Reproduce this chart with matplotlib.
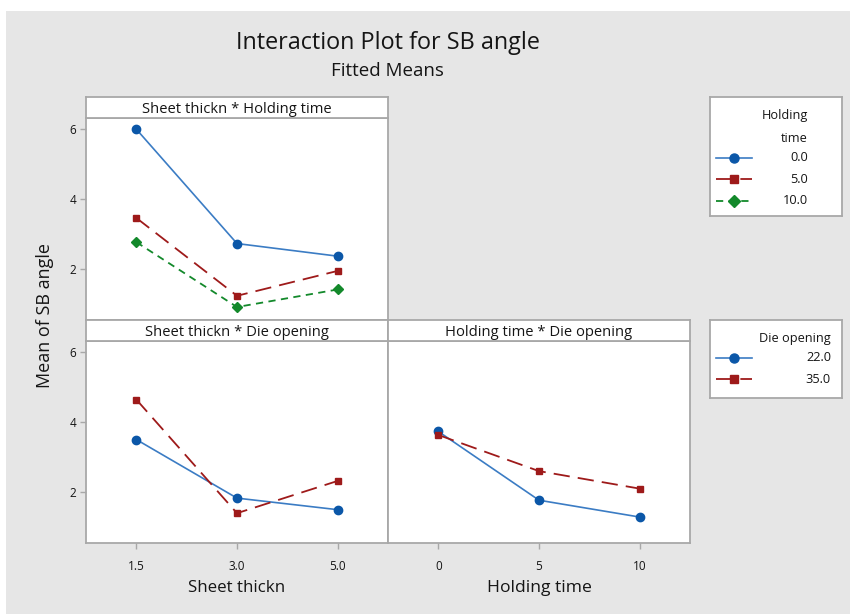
import matplotlib
matplotlib.use("Agg")
import matplotlib.pyplot as plt
from matplotlib.lines import Line2D
from matplotlib.patches import Rectangle

plt.rcParams['font.family'] = ['Open Sans', 'DejaVu Sans']

# Fitted means
sheet_levels = ["1.5", "3.0", "5.0"]
hold_levels = ["0", "5", "10"]
hold_legend = ["0.0", "5.0", "10.0"]
die_legend = ["22.0", "35.0"]

# Sheet thickn * Holding time
st_ht_0 = [5.99, 2.73, 2.37]
st_ht_5 = [3.46, 1.24, 1.95]
st_ht_10 = [2.77, 0.92, 1.42]

# Sheet thickn * Die opening
st_do_22 = [3.50, 1.83, 1.50]
st_do_35 = [4.64, 1.40, 2.32]

# Holding time * Die opening
ht_do_22 = [3.73, 1.77, 1.29]
ht_do_35 = [3.63, 2.60, 2.10]

y_ticks = [2, 4, 6]

W, H = 850, 614
BLUE = "#0b57a8"
BLUE_LINE = "#3b7cc4"
RED = "#9e1a1a"
GREEN = "#13892b"
FRAME = "#a8a8a8"
BG = "#e6e6e6"
TXT = "#151515"

styles = {
    "blue": dict(color=BLUE_LINE, ls="-", lw=1.2, marker="o", ms=6,
                 mfc=BLUE, mec=BLUE),
    "red": dict(color=RED, ls=(0, (9, 4.5)), lw=1.3, marker="s", ms=5,
                mfc=RED, mec=RED),
    "green": dict(color=GREEN, ls=(0, (4, 3)), lw=1.3, marker="D", ms=5.5,
                  mfc=GREEN, mec=GREEN),
}

fig = plt.figure(figsize=(W / 100, H / 100), dpi=100, facecolor="white")
fig.patches.append(Rectangle((6 / W, 0), 1, 1 - 11 / H, transform=fig.transFigure,
                             facecolor=BG, edgecolor="none", zorder=-10))


def box(x0, y0, x1, y1):
    """Axes from pixel box (top-left origin)."""
    return [x0 / W, 1 - y1 / H, (x1 - x0) / W, (y1 - y0) / H]


def style_frame(ax):
    for s in ax.spines.values():
        s.set_color(FRAME)
        s.set_linewidth(1.3)
    ax.set_facecolor("white")


def strip(x0, y0, x1, y1, label):
    sa = fig.add_axes(box(x0, y0, x1, y1))
    style_frame(sa)
    sa.set_xticks([])
    sa.set_yticks([])
    sa.text(0.5, 0.42, label, ha="center", va="center", fontsize=10.6,
            color=TXT, transform=sa.transAxes)


def panel(x0, y0, x1, y1, left_ticks, bottom_ticks, xlabels):
    ax = fig.add_axes(box(x0, y0, x1, y1))
    style_frame(ax)
    ax.set_xlim(-0.5, 2.5)
    ax.set_ylim(0.55, 6.31)
    ax.tick_params(colors=FRAME, labelcolor=TXT, length=4, width=1, labelsize=8.5)
    ax.set_xticks(range(3))
    if bottom_ticks:
        ax.set_xticklabels(xlabels)
        ax.tick_params(axis="x", pad=8)
    else:
        ax.tick_params(axis="x", bottom=False, labelbottom=False)
    ax.set_yticks(y_ticks)
    if left_ticks:
        ax.set_yticklabels([str(v) for v in y_ticks])
        ax.tick_params(axis="y", pad=3)
    else:
        ax.tick_params(axis="y", left=False, labelleft=False)
    return ax


x = range(3)

ax1 = panel(86, 118, 388, 320, True, False, sheet_levels)
strip(86, 97, 388, 118, "Sheet thickn * Holding time")
ax1.plot(x, st_ht_0, **styles["blue"])
ax1.plot(x, st_ht_5, **styles["red"])
ax1.plot(x, st_ht_10, **styles["green"])

ax2 = panel(86, 341, 388, 543, True, True, sheet_levels)
strip(86, 320, 388, 341, "Sheet thickn * Die opening")
ax2.plot(x, st_do_22, **styles["blue"])
ax2.plot(x, st_do_35, **styles["red"])

ax3 = panel(388, 341, 690, 543, False, True, hold_levels)
strip(388, 320, 690, 341, "Holding time * Die opening")
ax3.plot(x, ht_do_22, **styles["blue"])
ax3.plot(x, ht_do_35, **styles["red"])

# Titles and axis labels
fig.text(388 / W, 1 - 43 / H, "Interaction Plot for SB angle", ha="center",
         va="center", fontsize=16.8, color=TXT)
fig.text(387 / W, 1 - 71 / H, "Fitted Means", ha="center", va="center",
         fontsize=13.5, color=TXT)
fig.text(45 / W, 1 - 316 / H, "Mean of SB angle", rotation=90, ha="center",
         va="center", fontsize=13, color=TXT)
fig.text(237 / W, 1 - 588 / H, "Sheet thickn", ha="center", va="center",
         fontsize=12.2, color=TXT)
fig.text(539 / W, 1 - 588 / H, "Holding time", ha="center", va="center",
         fontsize=12.6, color=TXT)


def legend_box(x0, y0, x1, y1, title_lines, labels, keys, label_right):
    la = fig.add_axes(box(x0, y0, x1, y1))
    la.set_xlim(x0, x1)
    la.set_ylim(y1, y0)
    la.set_xticks([])
    la.set_yticks([])
    la.set_facecolor("white")
    for s in la.spines.values():
        s.set_color(FRAME)
        s.set_linewidth(1.3)
    ty = y0 + 19
    for t in title_lines:
        la.text(label_right, ty, t, ha="right", va="center", fontsize=9.2, color=TXT)
        ty += 23
    ey = ty - 23 + 19
    for lab, key in zip(labels, keys):
        st = dict(styles[key])
        st["ms"] = st["ms"] + 0.5
        la.add_line(Line2D([716, 734, 752], [ey, ey, ey], markevery=[1], **st))
        la.text(label_right, ey, lab, ha="right", va="center", fontsize=9.2, color=TXT)
        ey += 21.5


legend_box(710, 97, 842, 216, ["Holding", "time"], hold_legend,
           ["blue", "red", "green"], 808)
legend_box(710, 320, 842, 398, ["Die opening"], die_legend, ["blue", "red"], 831)

fig.savefig("out.png", dpi=100, facecolor="white")
